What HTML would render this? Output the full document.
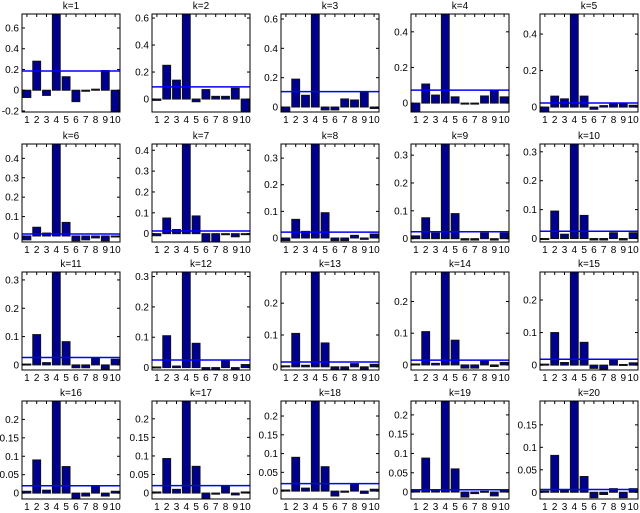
<!DOCTYPE html>
<html><head><meta charset="utf-8"><style>
body{margin:0;background:#fff;}
svg{display:block;font-family:"Liberation Sans",sans-serif;}
</style></head><body>
<svg id="chart" width="640" height="513"></svg>
<script>
const categories = [1,2,3,4,5,6,7,8,9,10];
const panelTitles = ["k=1","k=2","k=3","k=4","k=5","k=6","k=7","k=8","k=9","k=10","k=11","k=12","k=13","k=14","k=15","k=16","k=17","k=18","k=19","k=20"];
const seriesValues = [
 [-0.07,0.28,-0.05,1,0.13,-0.11,-0.01,0.01,0.19,-0.21],
 [-0.01,0.25,0.14,1,-0.02,0.07,0.02,0.02,0.08,-0.1],
 [-0.03,0.19,0.08,1,-0.02,-0.02,0.055,0.048,0.10,-0.01],
 [-0.05,0.107,0.045,1,0.035,-0.003,-0.003,0.04,0.068,0.035],
 [-0.027,0.06,0.045,1,0.06,-0.012,0.008,0.02,0.02,0.01],
 [-0.02,0.045,0.015,1,0.07,-0.025,-0.02,-0.01,-0.025,-0.003],
 [-0.01,0.075,0.02,1,0.085,-0.04,-0.04,-0.005,-0.015,0.0],
 [-0.01,0.07,0.025,1,0.095,-0.01,-0.01,0.01,-0.005,0.015],
 [0.01,0.075,0.02,1,0.09,-0.005,-0.005,0.02,-0.005,0.02],
 [-0.003,0.095,0.015,1,0.08,-0.005,-0.005,0.02,-0.005,0.02],
 [0.003,0.107,0.008,1,0.082,-0.01,-0.01,0.025,-0.015,0.02],
 [0.002,0.105,0.005,1,0.08,-0.005,-0.005,0.022,-0.005,0.01],
 [0.003,0.105,0.005,1,0.075,-0.007,-0.007,0.01,-0.007,0.008],
 [0.003,0.105,0.005,1,0.078,-0.01,-0.01,0.012,-0.005,0.008],
 [0.003,0.1,0.008,1,0.07,-0.01,-0.012,0.018,0.002,0.007],
 [0.005,0.09,0.008,1,0.072,-0.015,-0.008,0.018,-0.008,0.005],
 [0.003,0.093,0.01,1,0.072,-0.015,-0.003,0.018,-0.005,0.003],
 [0.003,0.09,0.008,1,0.065,-0.013,-0.003,0.02,-0.006,0.005],
 [0.003,0.088,0.003,1,0.06,-0.013,-0.004,0.002,-0.01,0.003],
 [0.003,0.082,0.005,1,0.035,-0.012,-0.005,0.008,-0.012,0.008]
];
const thresholdValues = [0.185,0.09,0.105,0.073,0.022,0.01,0.013,0.022,0.025,0.025,0.026,0.025,0.015,0.015,0.018,0.02,0.02,0.02,0.006,0.006];
const yMins = [-0.21,-0.096,-0.034,-0.05,-0.027,-0.031,-0.04,-0.015,-0.012,-0.012,-0.018,-0.008,-0.01,-0.016,-0.015,-0.016,-0.016,-0.021,-0.018,-0.015];
const yMaxs = [0.735,0.63,0.634,0.50,0.51,0.474,0.43,0.353,0.34,0.327,0.328,0.315,0.298,0.293,0.286,0.25,0.248,0.24,0.236,0.203];
const yTickLabels = [
 ["-0.2","0","0.2","0.4","0.6"],["0","0.2","0.4","0.6"],["0","0.2","0.4","0.6"],["0","0.2","0.4"],["0","0.2","0.4"],
 ["0","0.1","0.2","0.3","0.4"],["0","0.1","0.2","0.3","0.4"],["0","0.1","0.2","0.3"],["0","0.1","0.2","0.3"],["0","0.1","0.2","0.3"],
 ["0","0.1","0.2","0.3"],["0","0.1","0.2","0.3"],["0","0.1","0.2"],["0","0.1","0.2"],["0","0.1","0.2"],
 ["0","0.05","0.1","0.15","0.2"],["0","0.05","0.1","0.15","0.2"],["0","0.05","0.1","0.15","0.2"],["0","0.05","0.1","0.15","0.2"],["0","0.05","0.1","0.15"]
];
const NS="http://www.w3.org/2000/svg";
const svg=document.getElementById('chart');
const colLefts=[22,152,281,411,540], rowTops=[14,144,272,401], W=98, H=98;
function mk(tag,attrs,parent){const e=document.createElementNS(NS,tag);for(const k in attrs)e.setAttribute(k,attrs[k]);parent.appendChild(e);return e;}
const defs=mk('defs',{},svg);
for(let p=0;p<20;p++){
  const L=colLefts[p%5], T=rowTops[Math.floor(p/5)];
  const ymin=yMins[p], ymax=yMaxs[p];
  const xS=v=>L+(v-0.5)/10*W;
  const yS=v=>T+(ymax-v)/(ymax-ymin)*H;
  const g=mk('g',{},svg);
  
  
  const cp=mk('clipPath',{id:'cp'+p},defs);
  mk('rect',{x:L,y:T,width:W,height:H},cp);
  const t=mk('text',{x:L+W/2,y:T-5,'text-anchor':'middle','font-size':10},g);
  t.textContent=panelTitles[p];
  
  
  const bars=mk('g',{'clip-path':'url(#cp'+p+')'},g);
  categories.forEach((c,i)=>{
    const v=seriesValues[p][i];
    const y0=yS(0), y1=yS(v);
    const r=mk('rect',{x:xS(c-0.4),y:Math.min(y0,y1),width:xS(c+0.4)-xS(c-0.4),height:Math.max(1,Math.abs(y1-y0)),fill:'#00008f',stroke:'#111','stroke-width':1},bars);
    
    
  });
  const ln=mk('line',{x1:L,x2:L+W,y1:yS(thresholdValues[p]),y2:yS(thresholdValues[p]),stroke:'#0000ff','stroke-width':1.5},bars);
  
  
  const bx=mk('rect',{x:L,y:T,width:W,height:H,fill:'none',stroke:'#000','stroke-width':1},g);
  
  
  yTickLabels[p].forEach(s=>{
    const v=parseFloat(s), y=yS(v);
    mk('line',{x1:L,x2:L+3,y1:y,y2:y,stroke:'#000'},g);
    mk('line',{x1:L+W,x2:L+W-3,y1:y,y2:y,stroke:'#000'},g);
    const tl=mk('text',{x:L-3,y:y+3.5,'text-anchor':'end','font-size':10},g);
    tl.textContent=s;
    
    
  });
  categories.forEach(c=>{
    const x=xS(c);
    mk('line',{x1:x,x2:x,y1:T,y2:T+3,stroke:'#000'},g);
    const xl=mk('text',{x:x,y:T+H+11,'text-anchor':'middle','font-size':10},g);
    xl.textContent=c;
    
    
  });
}
</script>
</body></html>
